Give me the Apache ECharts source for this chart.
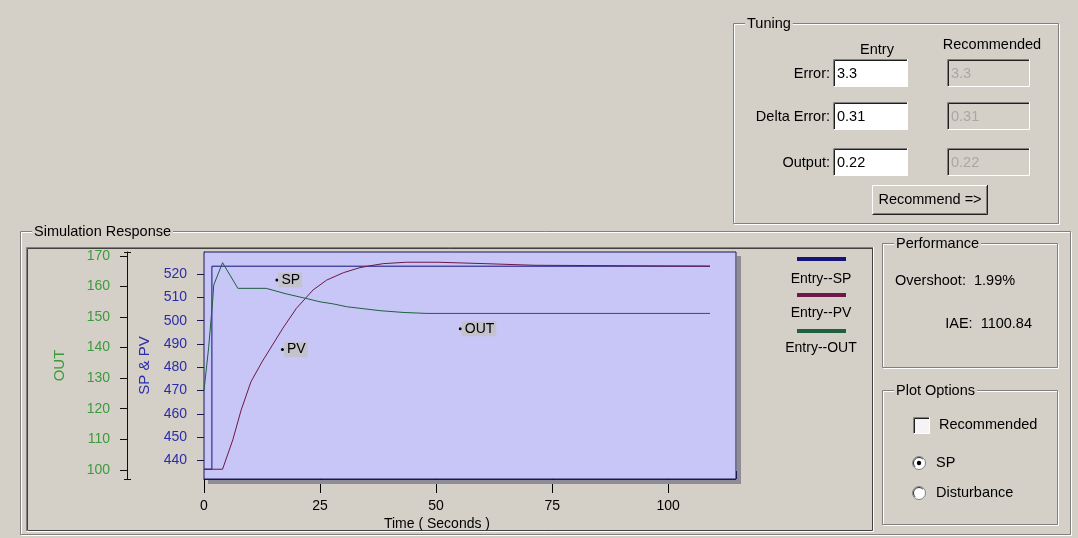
<!DOCTYPE html>
<html><head><meta charset="utf-8">
<script src="https://cdn.jsdelivr.net/npm/echarts@6/dist/echarts.min.js"></script>
<style>html,body{margin:0;padding:0;background:#d4d0c8;}#c{width:1078px;height:538px;}</style>
</head><body><div id="c"></div>
<script>
// ---------- data ----------
const timeTicks = [0, 25, 50, 75, 100];
const spPvTicks = [440, 450, 460, 470, 480, 490, 500, 510, 520];
const outTicks = [100, 110, 120, 130, 140, 150, 160, 170];
const seriesNames = ['Entry--SP', 'Entry--PV', 'Entry--OUT'];
const curveLabels = ['SP', 'PV', 'OUT'];
const spData = [[0, 436.2], [1.7, 436.2], [1.7, 523.4], [109, 523.4]];
const pvData = [[0, 436.2], [4.0, 436.2], [6.2, 448.8], [8.0, 461.6], [10.1, 473.7], [12.5, 482.3], [17.0, 496.8], [19.9, 505.3], [23.5, 513.2], [26.4, 517.4], [30.0, 520.6], [33.6, 522.8], [35.8, 523.6], [38.6, 524.5], [43.6, 525.1], [50.4, 525.1], [50.8, 524.5], [60.5, 524.5], [60.6, 523.8], [71.3, 523.8], [71.4, 523.4], [109, 523.4]];
const outData = [[0, 126], [1.0, 140], [1.9, 156], [2.1, 160.5], [4.0, 167.8], [7.3, 159.4], [13.4, 159.4], [17.7, 157.6], [22.0, 156.1], [25.0, 155.0], [27.9, 154.3], [30.7, 153.4], [35.1, 152.6], [37.9, 152.1], [43.1, 151.5], [48.0, 151.2], [109, 151.2]];
const labelAnchors = [[15.7, 517.5], [16.9, 487.6], [55.2, 146.2]];
const tuningRows = ['Error:', 'Delta Error:', 'Output:'];
const entryValues = ['3.3', '0.31', '0.22'];
const recommendedValues = ['3.3', '0.31', '0.22'];
const performanceLabels = ['Overshoot:', 'IAE:'];
const performanceValues = ['1.99%', '1100.84'];
const plotOptionLabels = ['Recommended', 'SP', 'Disturbance'];

// ---------- styles ----------
const FONT = "'Liberation Sans', Arial, sans-serif";
const BG = '#d4d0c8';
const seriesColors = ['#14147a', '#6e1848', '#1e6040'];
const font = (s) => s + 'px ' + FONT;

function txt(x, y, text, opt) {
  opt = opt || {};
  return { type: 'text', x: x, y: y, z: opt.z || 10,
    style: { text: text, font: font(opt.size || 14.5), fill: opt.fill || '#000',
      textAlign: opt.align || 'left', align: opt.align || 'left',
      textVerticalAlign: 'middle', verticalAlign: 'middle',
      backgroundColor: opt.bg, padding: opt.pad } };
}
function line(pts, color, z) {
  return { type: 'polyline', z: z || 5, shape: { points: pts }, style: { stroke: color, lineWidth: 1, fill: null } };
}
function etched(x, y, w, h, title) {
  const a = [
    { type: 'rect', z: 4, shape: { x: x + 1.5, y: y + 1.5, width: w, height: h }, style: { fill: null, stroke: '#ffffff', lineWidth: 1 } },
    { type: 'rect', z: 5, shape: { x: x + 0.5, y: y + 0.5, width: w, height: h }, style: { fill: null, stroke: '#808080', lineWidth: 1 } }
  ];
  if (title) a.push(txt(x + 12, y + 1, title, { bg: BG, pad: [0, 2, 0, 2] }));
  return a;
}
function sunken(x, y, w, h, fill) {
  return [
    { type: 'rect', z: 5, shape: { x: x, y: y, width: w, height: h }, style: { fill: fill } },
    line([[x + 0.5, y + h], [x + 0.5, y + 0.5], [x + w, y + 0.5]], '#808080', 6),
    line([[x + 1.5, y + h - 1], [x + 1.5, y + 1.5], [x + w - 1, y + 1.5]], '#202020', 6),
    line([[x + 0.5, y + h - 0.5], [x + w - 0.5, y + h - 0.5], [x + w - 0.5, y]], '#ffffff', 6)
  ];
}
function raised(x, y, w, h) {
  return [
    { type: 'rect', z: 5, shape: { x: x, y: y, width: w, height: h }, style: { fill: BG } },
    line([[x + 0.5, y + h - 1], [x + 0.5, y + 0.5], [x + w - 1, y + 0.5]], '#ffffff', 6),
    line([[x + 0.5, y + h - 0.5], [x + w - 0.5, y + h - 0.5], [x + w - 0.5, y]], '#202020', 6),
    line([[x + 1.5, y + h - 1.5], [x + w - 1.5, y + h - 1.5], [x + w - 1.5, y + 1]], '#808080', 6)
  ];
}

// ---------- widgets ----------
let g = [];
// Tuning group
g = g.concat(etched(733, 23, 325, 200, 'Tuning'));
g.push(txt(877, 50, 'Entry', { align: 'center' }));
g.push(txt(992, 45, 'Recommended', { align: 'center' }));
const rowY = [59, 102, 148];
tuningRows.forEach((lab, i) => {
  const y = rowY[i];
  g.push(txt(830, y + 15, lab, { align: 'right' }));
  g = g.concat(sunken(833, y, 75, 28, '#ffffff'));
  g.push(txt(837, y + 15, entryValues[i], { z: 12 }));
  g = g.concat(sunken(947, y, 83, 28, BG));
  g.push(txt(951, y + 15, recommendedValues[i], { fill: '#a8a8a8', z: 12 }));
});
g = g.concat(raised(872, 185, 116, 30));
g.push(txt(930, 200, 'Recommend =>', { align: 'center', z: 12 }));

// Simulation Response group
g = g.concat(etched(20, 231, 1050, 303, 'Simulation Response'));
// chart frame
g.push(line([[26.5, 531], [26.5, 247.5], [873, 247.5]], '#808080', 6));
g.push(line([[27.5, 530], [27.5, 248.5], [872, 248.5]], '#404040', 6));
g.push(line([[26.5, 531.5], [873.5, 531.5], [873.5, 247]], '#ffffff', 6));
g.push(line([[27.5, 530.5], [872.5, 530.5], [872.5, 248]], '#404040', 6));

// OUT axis end caps
g.push(line([[124, 252.5], [131, 252.5]], '#101010', 6));
g.push(line([[124, 479.5], [131, 479.5]], '#101010', 6));

// plot shadow
g.push({ type: 'rect', z: 1, shape: { x: 737, y: 256, width: 4, height: 228 }, style: { fill: '#8e8c96' } });
g.push({ type: 'rect', z: 1, shape: { x: 208, y: 480, width: 533, height: 4 }, style: { fill: '#8e8c96' } });

// legend (drawn from series names / colours)
seriesNames.forEach((n, i) => {
  g.push({ type: 'rect', z: 8, shape: { x: 797, y: 257 + 36 * i, width: 49, height: 4 }, style: { fill: seriesColors[i] } });
  g.push(txt(821, 279 + 34.6 * i, n, { align: 'center', size: 14 }));
});

// Performance group
g = g.concat(etched(882, 243, 175, 124, 'Performance'));
g.push(txt(895, 281, performanceLabels[0] + '  ' + performanceValues[0]));
g.push(txt(1032, 324, performanceLabels[1] + '  ' + performanceValues[1], { align: 'right' }));

// Plot options group
g = g.concat(etched(882, 390, 175, 134, 'Plot Options'));
g = g.concat(sunken(913, 417, 17, 17, '#f4f4f4'));
g.push(txt(939, 425, plotOptionLabels[0]));
[463, 493].forEach((cy, i) => {
  g.push({ type: 'circle', z: 6, shape: { cx: 919, cy: cy, r: 6.5 }, style: { fill: '#ffffff', stroke: '#808080', lineWidth: 1 } });
  g.push({ type: 'arc', z: 7, shape: { cx: 919, cy: cy, r: 5.5, startAngle: Math.PI * 0.75, endAngle: Math.PI * 1.75 }, style: { stroke: '#303030', lineWidth: 1, fill: null } });
  if (i === 0) g.push({ type: 'circle', z: 8, shape: { cx: 919, cy: cy, r: 2.2 }, style: { fill: '#000' } });
  g.push(txt(936, cy, plotOptionLabels[i + 1]));
});

// ---------- chart ----------
const chart = echarts.init(document.getElementById('c'), null, { renderer: 'canvas' });
const navy = '#1a1a50';
const axisCommon = { min: 0, max: 114.6, type: 'value', splitLine: { show: false } };
const spRange = { min: 432, max: 529.5 };
const outRange = { min: 97, max: 171.3 };

function mk(i) {
  return {
    name: seriesNames[i],
    symbol: 'circle', symbolSize: 3,
    itemStyle: { color: '#000' },
    label: { show: true, position: 'right', distance: 0, formatter: curveLabels[i], color: '#000',
      fontSize: 14, fontFamily: FONT, backgroundColor: '#c4c2cc', padding: [1, 2, 0, 3] },
    data: [{ coord: labelAnchors[i] }]
  };
}

chart.setOption({
  backgroundColor: BG,
  animation: false,
  grid: { left: 204, top: 252, width: 532, height: 227, show: true, backgroundColor: '#c8c6f6', borderColor: navy, borderWidth: 1, z: 2 },
  xAxis: [
    Object.assign({}, axisCommon, { position: 'bottom', interval: 5,
      axisLine: { show: true, lineStyle: { color: navy, width: 1 } },
      axisTick: { show: true, inside: true, length: 8, lineStyle: { color: navy } },
      axisLabel: { show: false } }),
    Object.assign({}, axisCommon, { position: 'bottom',
      axisLine: { show: false },
      axisTick: { show: true, inside: false, length: 14, customValues: timeTicks, lineStyle: { color: '#000' } },
      axisLabel: { show: true, customValues: timeTicks, margin: 20, color: '#000', fontSize: 14, fontFamily: FONT },
      name: 'Time ( Seconds )', nameLocation: 'middle', nameGap: 38,
      nameTextStyle: { color: '#000', fontSize: 14, fontFamily: FONT, padding: [0, 66, 0, 0] } })
  ],
  yAxis: [
    Object.assign({ type: 'value', position: 'left', splitLine: { show: false } }, spRange, {
      axisLine: { show: true, lineStyle: { color: navy } },
      axisTick: { show: true, inside: false, length: 7, customValues: spPvTicks, lineStyle: { color: navy } },
      axisLabel: { show: true, customValues: spPvTicks, margin: 17, color: '#2c2ca8', fontSize: 14, fontFamily: FONT },
      name: 'SP & PV', nameLocation: 'middle', nameRotate: 90, nameGap: 52,
      nameTextStyle: { color: '#2c2ca8', fontSize: 15, fontFamily: FONT } }),
    Object.assign({ type: 'value', position: 'left', splitLine: { show: false }, interval: 2 }, spRange, {
      axisLine: { show: false },
      axisTick: { show: true, inside: true, length: 7, lineStyle: { color: navy } },
      axisLabel: { show: false } }),
    Object.assign({ type: 'value', position: 'left', offset: 77, splitLine: { show: false } }, outRange, {
      axisLine: { show: true, lineStyle: { color: '#101010' } },
      axisTick: { show: true, inside: false, length: 7, customValues: outTicks, lineStyle: { color: '#101010' } },
      axisLabel: { show: true, customValues: outTicks, margin: 17, color: '#3c9a3c', fontSize: 14, fontFamily: FONT },
      name: 'OUT', nameLocation: 'middle', nameRotate: 90, nameGap: 60,
      nameTextStyle: { color: '#3c9a3c', fontSize: 15, fontFamily: FONT } })
  ],
  series: [
    { type: 'line', name: seriesNames[0], xAxisIndex: 0, yAxisIndex: 0, data: spData, showSymbol: false, symbol: 'none',
      lineStyle: { color: seriesColors[0], width: 1 }, itemStyle: { color: seriesColors[0] }, markPoint: mk(0), z: 3 },
    { type: 'line', name: seriesNames[1], xAxisIndex: 0, yAxisIndex: 0, data: pvData, showSymbol: false, symbol: 'none',
      lineStyle: { color: seriesColors[1], width: 1 }, itemStyle: { color: seriesColors[1] }, markPoint: mk(1), z: 3 },
    { type: 'line', name: seriesNames[2], xAxisIndex: 0, yAxisIndex: 2, data: outData, showSymbol: false, symbol: 'none',
      lineStyle: { color: seriesColors[2], width: 1 }, itemStyle: { color: seriesColors[2] }, markPoint: mk(2), z: 3 }
  ],
  graphic: g
});
</script>
</body></html>
